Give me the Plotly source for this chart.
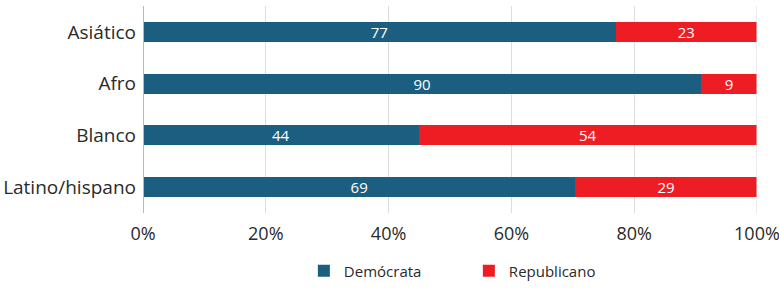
import plotly.graph_objects as go

categories = ["Asiático", "Afro", "Blanco", "Latino/hispano"]
democrata = [77, 90, 44, 69]
republicano = [23, 9, 54, 29]
tick_vals = [0, 20, 40, 60, 80, 100]
tick_text = ["0%", "20%", "40%", "60%", "80%", "100%"]

FONT = "Open Sans, Noto Sans, sans-serif"

fig = go.Figure()
fig.add_trace(go.Bar(
    y=categories, x=democrata, name="Demócrata", orientation="h",
    marker=dict(color="#1b5e80", line=dict(width=0)),
    text=[str(v) for v in democrata], textposition="inside", insidetextanchor="middle",
    textangle=0, constraintext="none", cliponaxis=False,
    textfont=dict(color="white", size=15, family=FONT), width=0.39,
))
fig.add_trace(go.Bar(
    y=categories, x=republicano, name="Republicano", orientation="h",
    marker=dict(color="#ee1d23", line=dict(width=0)),
    text=[str(v) for v in republicano], textposition="inside", insidetextanchor="middle",
    textangle=0, constraintext="none", cliponaxis=False,
    textfont=dict(color="white", size=15, family=FONT), width=0.39,
))

fig.update_layout(
    barmode="stack", barnorm="percent",
    width=779, height=291,
    margin=dict(l=143, r=22, t=6, b=78, autoexpand=False),
    paper_bgcolor="white", plot_bgcolor="white",
    font=dict(family=FONT, color="#2a2a2a", size=17),
    xaxis=dict(range=[0, 100.01], tickvals=tick_vals, ticktext=tick_text,
               showgrid=True, gridcolor="#dddddd", gridwidth=1,
               zeroline=False, showline=False, ticks="", automargin=False,
               ticklabeloverflow="allow",
               tickfont=dict(size=18, color="#2a2a2a"), ticklabelstandoff=8),
    yaxis=dict(autorange="reversed", showgrid=False, zeroline=False, automargin=False,
               ticks="", tickfont=dict(size=19, color="#2a2a2a"), ticklabelstandoff=6),
    legend=dict(orientation="h", x=0.262, xanchor="left", y=-0.2, yanchor="top",
                traceorder="normal",
                font=dict(size=15, color="#2a2a2a"), entrywidth=120,
                itemsizing="constant"),
    showlegend=True,
    shapes=[dict(type="line", xref="x", yref="paper", x0=0, x1=0, y0=0, y1=1,
                 line=dict(color="#bbbbbb", width=2)),
            dict(type="line", xref="x", yref="paper", x0=100, x1=100, y0=0, y1=1,
                 line=dict(color="#dddddd", width=1))],
)

fig.write_html("out.html", config={"displayModeBar": False},
               post_script="document.body.style.margin='0';")
